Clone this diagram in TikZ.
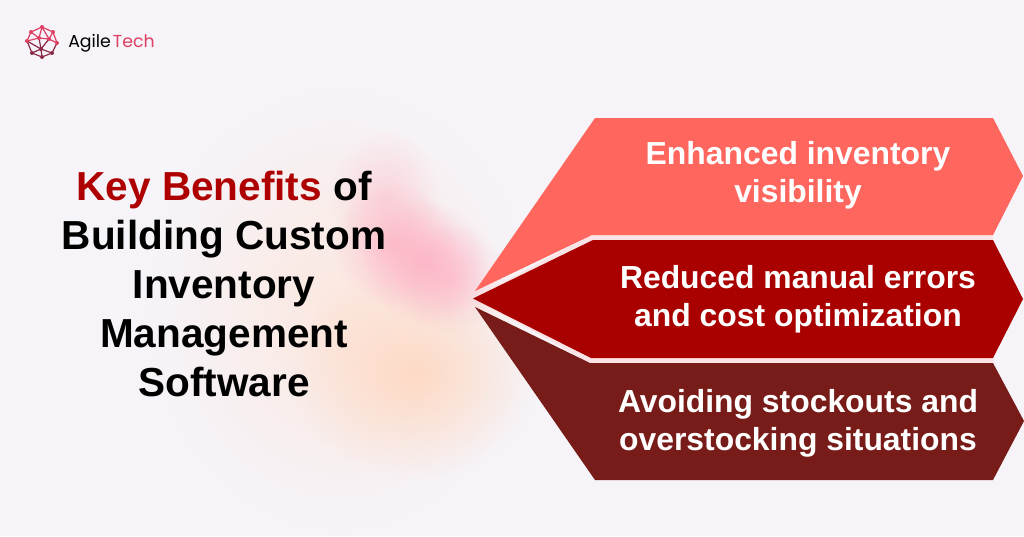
\documentclass[tikz,border=0pt]{standalone}
\usepackage{fontspec}
\setmainfont{Liberation Sans}
\newfontfamily\logofont{Poppins}
\usetikzlibrary{fadings}
\definecolor{bgc}{HTML}{F6F4F9}
\definecolor{coral}{HTML}{FF665E}
\definecolor{crim}{HTML}{A90000}
\definecolor{maroon}{HTML}{771C18}
\definecolor{keyred}{HTML}{AE0000}
\definecolor{logor}{HTML}{DE3F62}
\definecolor{logod}{HTML}{8C2A48}
\definecolor{band}{HTML}{FBE3E6}
\definecolor{glowpink}{HTML}{FFA8BE}
\definecolor{glowpeach}{HTML}{FFD3B8}
\definecolor{glowpale}{HTML}{FDE6DC}
\tikzfading[name=softblob, inner color=transparent!0, middle color=transparent!35, outer color=transparent!100]
\tikzset{
  blob/.style={fill=#1, path fading=softblob},
  cardtext/.style={text=white, font=\fontsize{23.9}{28.5}\selectfont\bfseries, align=center},
  titletext/.style={font=\fontsize{30.4}{36.8}\selectfont\bfseries, align=center},
  lnk/.style={draw=logor, line width=0.9pt},
  lnkd/.style={draw=logod, line width=0.9pt},
  dotn/.style={circle, fill=logor, inner sep=0pt, minimum size=3pt},
  dotd/.style={circle, fill=logod, inner sep=0pt, minimum size=3pt},
}
\begin{document}
\begin{tikzpicture}[x=0.75pt,y=-0.75pt]
\useasboundingbox (0,0) rectangle (1024,536);
\fill[bgc] (0,0) rectangle (1024,536);
% soft glow
\fill[blob=glowpale, opacity=0.9] (340,310) ellipse (190 and 220);
\fill[blob=glowpeach, opacity=0.75] (415,375) ellipse (125 and 105);
\fill[blob=glowpink, opacity=0.35] (385,195) ellipse (55 and 65);
\fill[blob=glowpink, opacity=0.6] (395,245) circle (62);
\fill[blob=glowpink, opacity=0.6] (425,262) circle (62);
\fill[blob=glowpink, opacity=0.5] (450,278) circle (55);
% separators
\fill[band] (473,298) -- (592,235) -- (993,235) -- (993,363) -- (590,363) -- cycle;
% ribbons
\fill[coral] (475,291) -- (595,118) -- (993,118) -- (1023,176) -- (993,235) -- (592,235) -- cycle;
\fill[crim] (473,298.5) -- (593,240) -- (993,240) -- (1023,299) -- (993,358) -- (591,358) -- cycle;
\fill[maroon] (475,307) -- (590,363) -- (993,363) -- (1024,421) -- (993,480) -- (595,480) -- cycle;
% labels
\node[cardtext] (c1) at (798,175.5) {Enhanced inventory\\visibility};
\node[cardtext] (c2) at (798,299.5) {Reduced manual errors\\and cost optimization};
\node[cardtext] (c3) at (798,423.5) {Avoiding stockouts and\\overstocking situations};
\node[titletext] (t) at (224,284) {{\color{keyred}Key Benefits} of\\Building Custom\\Inventory\\Management\\Software};
% logo
\begin{scope}[shift={(42,42)}]
\coordinate (n1) at (0,-15);
\coordinate (n2) at (11,-10);
\coordinate (n3) at (15,1);
\coordinate (n4) at (10,11);
\coordinate (n5) at (0,15);
\coordinate (n6) at (-10,11);
\coordinate (n7) at (-15,-1);
\coordinate (n8) at (-11,-10);
\coordinate (n9) at (-3,-4);
\coordinate (n10) at (7,-3);
\coordinate (n11) at (-1,7);
\draw[lnk] (n7)--(n8)--(n1)--(n2)--(n3);
\draw[lnk] (n8)--(n9)--(n1)--(n10)--(n2);
\draw[lnk] (n9)--(n10)--(n3) (n7)--(n9);
\draw[lnkd] (n3)--(n4)--(n5)--(n6)--(n7);
\draw[lnkd] (n10)--(n11)--(n4) (n9)--(n11)--(n5) (n7)--(n11)--(n6);
\foreach \p in {n1,n2,n3,n7,n8,n9,n10} \node[dotn] at (\p) {};
\foreach \p in {n4,n5,n6,n11} \node[dotd] at (\p) {};
\end{scope}
\node[anchor=west, inner sep=0pt, font=\logofont\fontsize{13}{16}\selectfont] (logo) at (68,43.5) {Agile\hspace{1.5pt}{\color{logor}Tech}};
\end{tikzpicture}
\end{document}
